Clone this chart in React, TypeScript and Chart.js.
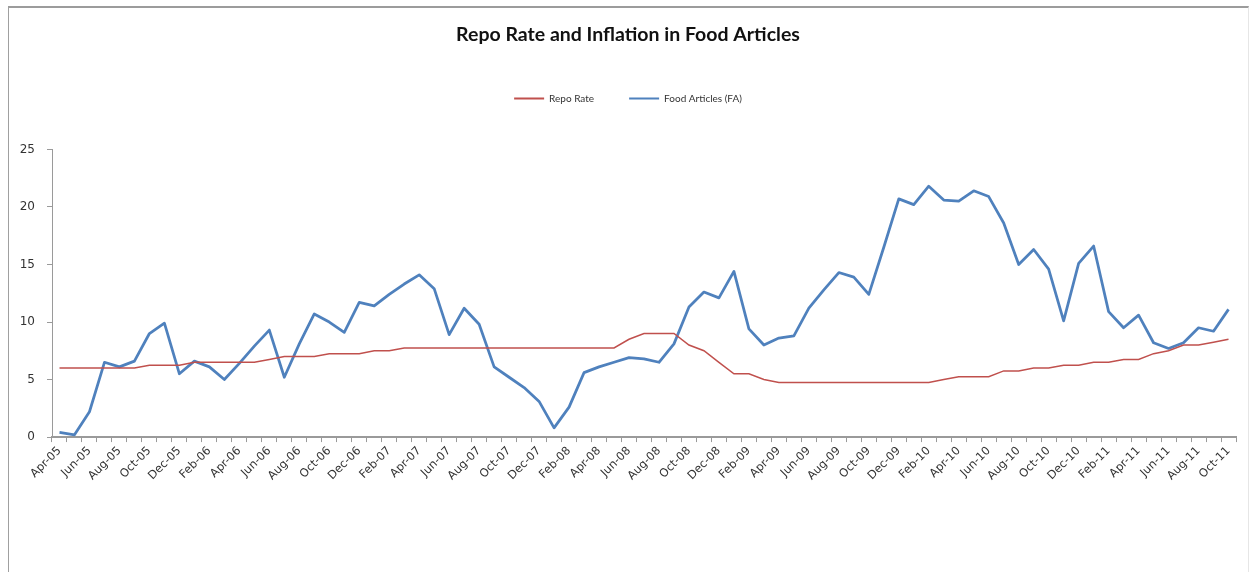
import React, { useEffect, useRef } from "react";
import { Chart, registerables } from "chart.js";

Chart.register(...registerables);

const months: string[] = [
  "Apr-05", "May-05", "Jun-05", "Jul-05", "Aug-05", "Sep-05", "Oct-05", "Nov-05", "Dec-05",
  "Jan-06", "Feb-06", "Mar-06", "Apr-06", "May-06", "Jun-06", "Jul-06", "Aug-06", "Sep-06", "Oct-06", "Nov-06", "Dec-06",
  "Jan-07", "Feb-07", "Mar-07", "Apr-07", "May-07", "Jun-07", "Jul-07", "Aug-07", "Sep-07", "Oct-07", "Nov-07", "Dec-07",
  "Jan-08", "Feb-08", "Mar-08", "Apr-08", "May-08", "Jun-08", "Jul-08", "Aug-08", "Sep-08", "Oct-08", "Nov-08", "Dec-08",
  "Jan-09", "Feb-09", "Mar-09", "Apr-09", "May-09", "Jun-09", "Jul-09", "Aug-09", "Sep-09", "Oct-09", "Nov-09", "Dec-09",
  "Jan-10", "Feb-10", "Mar-10", "Apr-10", "May-10", "Jun-10", "Jul-10", "Aug-10", "Sep-10", "Oct-10", "Nov-10", "Dec-10",
  "Jan-11", "Feb-11", "Mar-11", "Apr-11", "May-11", "Jun-11", "Jul-11", "Aug-11", "Sep-11", "Oct-11",
];

const repoRate: number[] = [
  6, 6, 6, 6, 6, 6, 6.25, 6.25, 6.25,
  6.5, 6.5, 6.5, 6.5, 6.5, 6.75, 7, 7, 7, 7.25, 7.25, 7.25,
  7.5, 7.5, 7.75, 7.75, 7.75, 7.75, 7.75, 7.75, 7.75, 7.75, 7.75, 7.75,
  7.75, 7.75, 7.75, 7.75, 7.75, 8.5, 9, 9, 9, 8, 7.5, 6.5,
  5.5, 5.5, 5, 4.75, 4.75, 4.75, 4.75, 4.75, 4.75, 4.75, 4.75, 4.75,
  4.75, 4.75, 5, 5.25, 5.25, 5.25, 5.75, 5.75, 6, 6, 6.25, 6.25,
  6.5, 6.5, 6.75, 6.75, 7.25, 7.5, 8, 8, 8.25, 8.5,
];

const foodArticles: number[] = [
  0.4, 0.2, 2.2, 6.5, 6.1, 6.6, 9.0, 9.9, 5.5,
  6.6, 6.1, 5.0, 6.4, 7.9, 9.3, 5.2, 8.1, 10.7, 10.0, 9.1, 11.7,
  11.4, 12.4, 13.3, 14.1, 12.9, 8.9, 11.2, 9.8, 6.1, 5.2, 4.3, 3.1,
  0.8, 2.6, 5.6, 6.1, 6.5, 6.9, 6.8, 6.5, 8.1, 11.3, 12.6, 12.1,
  14.4, 9.4, 8.0, 8.6, 8.8, 11.2, 12.8, 14.3, 13.9, 12.4, 16.5, 20.7,
  20.2, 21.8, 20.6, 20.5, 21.4, 20.9, 18.6, 15.0, 16.3, 14.6, 10.1, 15.1,
  16.6, 10.9, 9.5, 10.6, 8.2, 7.7, 8.2, 9.5, 9.2, 11.1,
];

const yTicks: number[] = [0, 5, 10, 15, 20, 25];

const FONT = "Lato, 'Open Sans', sans-serif";
const TICK_FONT = "'DejaVu Sans', sans-serif";

export default function App() {
  const ref = useRef<HTMLCanvasElement | null>(null);

  useEffect(() => {
    if (!ref.current) return;
    const layoutTweaks = {
      id: "layoutTweaks",
      beforeLayout(chart: any) {
        const lg = chart.legend;
        if (lg && !lg._patched) {
          const orig = lg.fit;
          lg.fit = function () {
            orig.call(this);
            this.height += 36;
          };
          lg._patched = true;
        }
        const xs = chart.scales && chart.scales.x;
        if (xs && !xs._patched) {
          xs.getPadding = () => ({ left: 0, top: 0, right: 0, bottom: 0 });
          xs._patched = true;
        }
      },
    };
    const chart = new Chart(ref.current, {
      type: "line",
      data: {
        labels: months,
        datasets: [
          {
            label: "Repo Rate",
            data: repoRate,
            borderColor: "#C0504D",
            backgroundColor: "#C0504D",
            borderWidth: 1.5,
            pointRadius: 0,
            tension: 0,
          },
          {
            label: "Food Articles (FA)",
            data: foodArticles,
            borderColor: "#4F81BD",
            backgroundColor: "#4F81BD",
            borderWidth: 2.75,
            pointRadius: 0,
            tension: 0,
            borderJoinStyle: "round",
          },
        ],
      },
      options: {
        animation: false,
        responsive: false,
        maintainAspectRatio: false,
        layout: { autoPadding: false, padding: { top: 0, left: 11, right: 12, bottom: 87 } },
        plugins: {
          title: {
            display: true,
            text: "Repo Rate and Inflation in Food Articles",
            color: "#111",
            font: { family: FONT, size: 19.5, weight: "bold" },
            padding: { top: 15, bottom: 12 },
          },
          legend: {
            display: true,
            position: "top",
            labels: {
              boxWidth: 30,
              boxHeight: 2,
              padding: 35,
              color: "#333",
              font: { family: FONT, size: 10 },
              generateLabels(chart: any) {
                return chart.data.datasets.map((ds: any, i: number) => ({
                  text: ds.label,
                  fillStyle: ds.borderColor,
                  strokeStyle: ds.borderColor,
                  lineWidth: 0,
                  hidden: false,
                  datasetIndex: i,
                  fontColor: "#333",
                }));
              },
            },
          },
          tooltip: { enabled: false },
        },
        scales: {
          x: {
            offset: true,
            afterFit: (scale: any) => {
              scale.paddingLeft = 0;
              scale.paddingRight = 0;
            },
            grid: {
              display: true,
              drawOnChartArea: false,
              drawTicks: true,
              tickLength: 5,
              color: "#9a9a9a",
              offset: true,
            },
            border: { display: true, color: "#9a9a9a", width: 2 },
            ticks: {
              autoSkip: false,
              maxRotation: 45,
              minRotation: 45,
              padding: 2,
              color: "#333",
              font: { family: TICK_FONT, size: 11.5 },
              callback: (_v: any, i: number) => (i % 2 === 0 ? months[i] : ""),
            },
          },
          y: {
            min: 0,
            max: 25,
            afterBuildTicks: (axis: any) => {
              axis.ticks = yTicks.map((v) => ({ value: v }));
            },
            afterFit: (scale: any) => {
              scale.width = 32;
            },
            grid: {
              display: true,
              drawOnChartArea: false,
              drawTicks: true,
              tickLength: 5,
              color: "#9a9a9a",
            },
            border: { display: true, color: "#9a9a9a", width: 1 },
            ticks: {
              padding: 12,
              color: "#333",
              font: { family: TICK_FONT, size: 12 },
            },
          },
        },
      },
      plugins: [layoutTweaks],
    });
    return () => chart.destroy();
  }, []);

  return (
    <div
      style={{
        position: "absolute",
        left: 8,
        top: 6,
        width: 1241,
        height: 566,
        boxSizing: "border-box",
        borderTop: "2px solid #9c9c9c",
        borderLeft: "1px solid #a0a0a0",
        borderRight: "1px solid #e6e6e6",
        background: "#fff",
      }}
    >
      <canvas ref={ref} width={1239} height={564} style={{ display: "block" }} />
    </div>
  );
}
